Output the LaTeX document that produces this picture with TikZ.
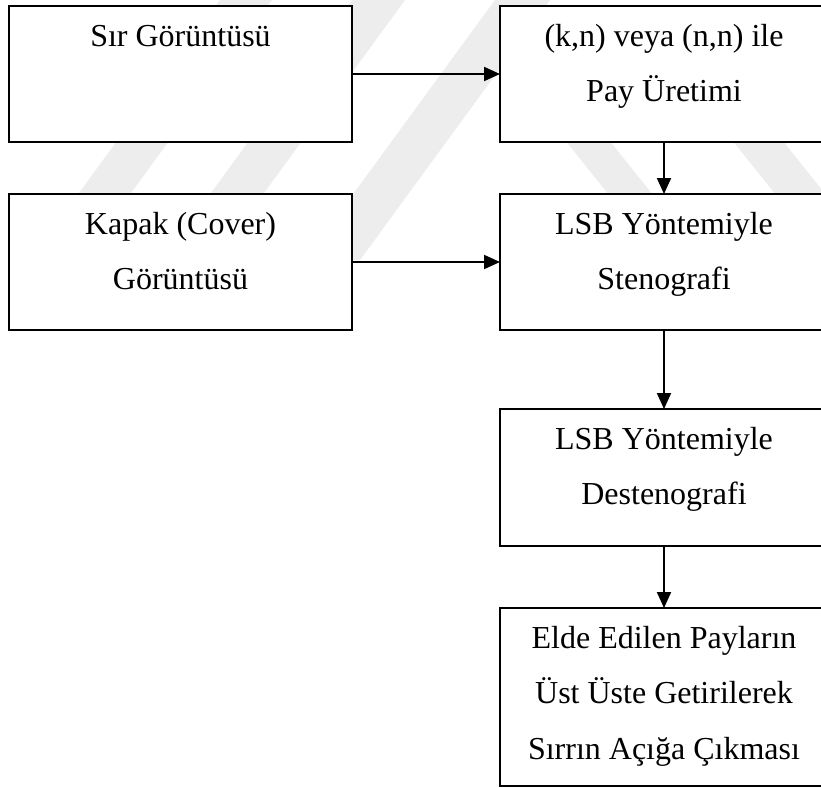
\documentclass[tikz,border=0pt]{standalone}
\usepackage{fontspec}
\setmainfont{Liberation Serif}
\usetikzlibrary{arrows.meta}
\definecolor{wmgray}{HTML}{EDEDED}
\begin{document}
\begin{tikzpicture}[x=1pt,y=-1pt,
  box/.style={draw, line width=2pt, fill=white, rectangle, inner sep=0pt,
    outer sep=0pt, minimum height=136pt},
  leftbox/.style={box, minimum width=343pt},
  rightbox/.style={box, minimum width=328pt},
  txt/.style={anchor=base, inner sep=0pt, font=\fontsize{32}{38}\selectfont},
  arr/.style={line width=2pt, -{Triangle[length=16pt,width=14pt]}},
  band/.style={fill=wmgray, draw=none}]

\useasboundingbox (0,0) rectangle (821,787);
\clip (0,0) rectangle (821,787);
\fill[white] (0,0) rectangle (821,787);

% faint diagonal background stripes
\foreach \a/\b in {220/272, 352/405, 495/550}
  \fill[band] (\a,0) -- (\b,0) -- ({\b-190},260) -- ({\a-190},260) -- cycle;
\foreach \a/\b in {453/497, 620/670}
  \fill[band] ({\a+80},100) -- ({\b+80},100) -- ({\b+208},260) -- ({\a+208},260) -- cycle;

% boxes
\node[leftbox]  (sir)     at (180.5,74)  {};
\node[rightbox] (pay)     at (664,74)    {};
\node[leftbox]  (kapak)   at (180.5,262) {};
\node[rightbox] (steno)   at (664,262)   {};
\node[rightbox, minimum height=137pt] (desteno) at (664,477.5) {};
\node[rightbox, minimum height=178pt] (sonuc)   at (664,697)   {};

% box texts
\node[txt] (sirA)     at ([yshift=-40pt]sir.north)       {Sır Görüntüsü};
\node[txt] (payA)     at ([yshift=-40pt]pay.north)       {(k,n) veya (n,n) ile};
\node[txt] (payB)     at ([yshift=-95.5pt]pay.north)     {Pay Üretimi};
\node[txt] (kapakA)   at ([yshift=-40pt]kapak.north)     {Kapak (Cover)};
\node[txt] (kapakB)   at ([yshift=-95.5pt]kapak.north)   {Görüntüsü};
\node[txt] (stenoA)   at ([yshift=-40pt]steno.north)     {LSB Yöntemiyle};
\node[txt] (stenoB)   at ([yshift=-95.5pt]steno.north)   {Stenografi};
\node[txt] (destenoA) at ([yshift=-40pt]desteno.north)   {LSB Yöntemiyle};
\node[txt] (destenoB) at ([yshift=-95.5pt]desteno.north) {Destenografi};
\node[txt] (sonucA)   at ([yshift=-40pt]sonuc.north)     {Elde Edilen Payların};
\node[txt] (sonucB)   at ([yshift=-95.5pt]sonuc.north)   {Üst Üste Getirilerek};
\node[txt] (sonucC)   at ([yshift=-151pt]sonuc.north)    {Sırrın Açığa Çıkması};

% connectors
\draw[arr] (sir) -- (pay);
\draw[arr] (pay) -- (steno);
\draw[arr] (kapak) -- (steno);
\draw[arr] (steno) -- (desteno);
\draw[arr] (desteno) -- (sonuc);
\end{tikzpicture}
\end{document}
